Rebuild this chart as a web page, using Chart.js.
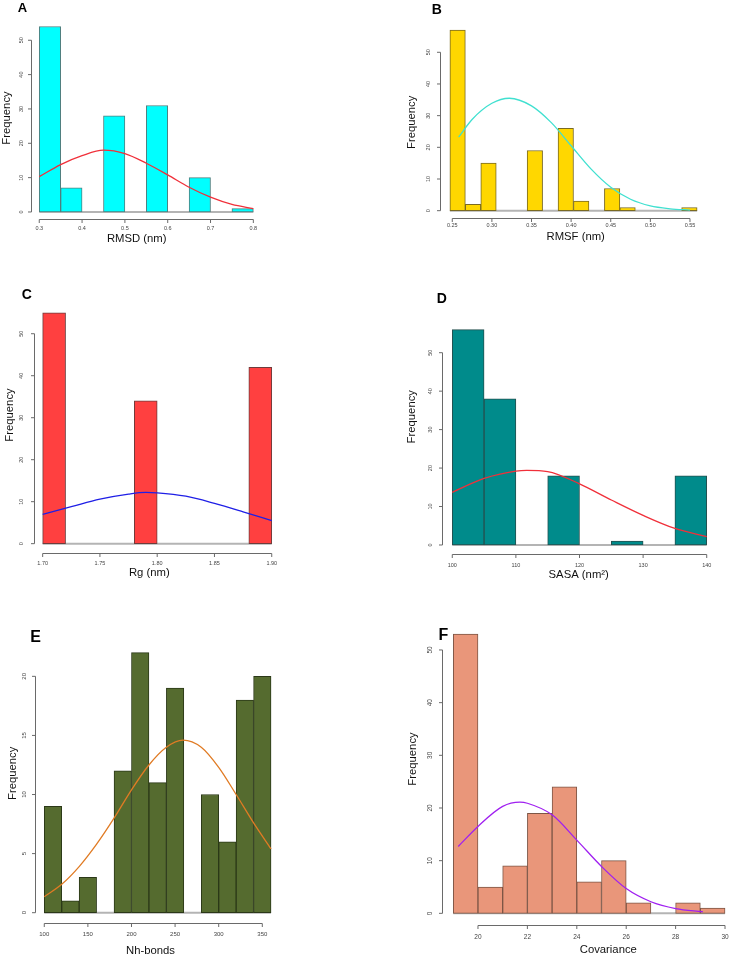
<!DOCTYPE html>
<html>
<head>
<meta charset="utf-8">
<script src="https://cdn.jsdelivr.net/npm/chart.js@4.4.1/dist/chart.umd.min.js"></script>
<style>
	html, body { margin: 0; padding: 0; background: #fff; overflow: hidden; }
	#page { position: relative; width: 731px; height: 956px; }
	#page canvas { position: absolute; }
</style>
</head>
<body>
<div id="page">
	<canvas id="panelA" width="365" height="270" style="left:0;top:0"></canvas>
	<canvas id="panelB" width="372" height="270" style="left:365px;top:0"></canvas>
	<canvas id="panelC" width="365" height="320" style="left:0;top:270px"></canvas>
	<canvas id="panelD" width="372" height="320" style="left:365px;top:270px"></canvas>
	<canvas id="panelE" width="365" height="366" style="left:0;top:590px"></canvas>
	<canvas id="panelF" width="372" height="366" style="left:365px;top:590px"></canvas>
</div>
<script>
// A - RMSD
const rmsdEdges = [ 0.30, 0.35, 0.40, 0.45, 0.50, 0.55, 0.60, 0.65, 0.70, 0.75, 0.80 ];
const rmsdCounts = [ 54, 7, 0, 28, 0, 31, 0, 10, 0, 1 ];
const rmsdCurveX = [ 0.30, 0.35, 0.40, 0.45, 0.50, 0.55, 0.60, 0.65, 0.70, 0.75, 0.80 ];
const rmsdCurveY = [ 10.3, 13.8, 16.4, 18.0, 17.0, 14.2, 10.8, 7.2, 4.3, 2.2, 1.0 ];
const rmsdTicks = [ '0.3', '0.4', '0.5', '0.6', '0.7', '0.8' ];

// B - RMSF
const rmsfEdges = [ 0.247, 0.2665, 0.286, 0.3055, 0.325, 0.3445, 0.364, 0.3835, 0.403, 0.4225, 0.442, 0.4615, 0.481, 0.5005, 0.52, 0.5395, 0.559 ];
const rmsfCounts = [ 57, 2, 15, 0, 0, 19, 0, 26, 3, 0, 7, 1, 0, 0, 0, 1 ];
const rmsfCurveX = [ 0.258, 0.275, 0.30, 0.322, 0.35, 0.375, 0.40, 0.425, 0.45, 0.475, 0.50, 0.525, 0.55 ];
const rmsfCurveY = [ 23.2, 28.8, 33.9, 35.5, 33.1, 27.8, 20.5, 13.2, 7.4, 3.6, 1.5, 0.6, 0.2 ];
const rmsfTicks = [ '0.25', '0.30', '0.35', '0.40', '0.45', '0.50', '0.55' ];

// C - Rg
const rgEdges = [ 1.70, 1.72, 1.74, 1.76, 1.78, 1.80, 1.82, 1.84, 1.86, 1.88, 1.90 ];
const rgCounts = [ 55, 0, 0, 0, 34, 0, 0, 0, 0, 42 ];
const rgCurveX = [ 1.70, 1.725, 1.75, 1.775, 1.79, 1.80, 1.825, 1.85, 1.875, 1.90 ];
const rgCurveY = [ 7.0, 8.8, 10.6, 11.8, 12.2, 12.1, 11.3, 9.6, 7.6, 5.5 ];
const rgTicks = [ '1.70', '1.75', '1.80', '1.85', '1.90' ];

// D - SASA
const sasaEdges = [ 100, 105, 110, 115, 120, 125, 130, 135, 140 ];
const sasaCounts = [ 56, 38, 0, 18, 0, 1, 0, 18 ];
const sasaCurveX = [ 100, 105, 110, 111.7, 115, 120, 125, 130, 135, 140 ];
const sasaCurveY = [ 13.7, 17.3, 19.2, 19.4, 19.1, 15.9, 11.7, 7.7, 4.3, 2.2 ];
const sasaTicks = [ '100', '110', '120', '130', '140' ];

// E - Nh-bonds
const hbEdges = [ 100, 120, 140, 160, 180, 200, 220, 240, 260, 280, 300, 320, 340, 360 ];
const hbCounts = [ 9, 1, 3, 0, 12, 22, 11, 19, 0, 10, 6, 18, 20 ];
const hbCurveX = [ 100, 120, 140, 160, 180, 200, 220, 240, 259, 280, 300, 320, 340, 360 ];
const hbCurveY = [ 1.35, 2.4, 3.9, 5.8, 8.0, 10.4, 12.5, 14.0, 14.6, 14.0, 12.3, 10.0, 7.6, 5.4 ];
const hbTicks = [ '100', '150', '200', '250', '300', '350' ];

// F - Covariance
const covEdges = [ 19, 20, 21, 22, 23, 24, 25, 26, 27, 28, 29, 30 ];
const covCounts = [ 53, 5, 9, 19, 24, 6, 10, 2, 0, 2, 1 ];
const covCurveX = [ 19.2, 20, 21, 21.7, 22, 23, 24, 25, 26, 27, 28, 29.1 ];
const covCurveY = [ 12.7, 16.5, 20.3, 21.1, 20.9, 18.7, 13.9, 8.9, 4.7, 2.2, 0.9, 0.3 ];
const covTicks = [ '20', '22', '24', '26', '28', '30' ];

const freqTicks50 = [ '0', '10', '20', '30', '40', '50' ];
const freqTicks20 = [ '0', '5', '10', '15', '20' ];

const FONT = '"Liberation Sans", Arial, sans-serif';

// draws R style axes, titles and the panel letter
const rAxes = {
	id: 'rAxes',
	afterDraw( chart, args, o ) {
		const { ctx, chartArea: a, scales } = chart;
		const sx = scales.x, sy = scales.y;
		const ox = o.canvasPos[0], oy = o.canvasPos[1];
		ctx.save();
		ctx.strokeStyle = '#6a6a6a';
		ctx.lineWidth = 1;
		ctx.fillStyle = '#444';
		ctx.font = o.tickSize + 'px ' + FONT;

		// x axis
		const xs = o.xTicks.map( t => sx.getPixelForValue( parseFloat( t ) ) );
		const yb = Math.round( a.bottom ) + 0.5;
		ctx.beginPath();
		ctx.moveTo( xs[0], yb );
		ctx.lineTo( xs[ xs.length - 1 ], yb );
		xs.forEach( px => { ctx.moveTo( px, yb ); ctx.lineTo( px, yb + 3.5 ); } );
		ctx.stroke();
		ctx.textAlign = 'center';
		ctx.textBaseline = 'middle';
		o.xTicks.forEach( ( t, i ) => ctx.fillText( t, xs[i], a.bottom + o.xGap ) );

		// y axis
		const ys = o.yTicks.map( t => sy.getPixelForValue( parseFloat( t ) ) );
		const xl = Math.round( a.left ) + 0.5;
		ctx.beginPath();
		ctx.moveTo( xl, ys[0] );
		ctx.lineTo( xl, ys[ ys.length - 1 ] );
		ys.forEach( py => { ctx.moveTo( xl, py ); ctx.lineTo( xl - 3.5, py ); } );
		ctx.stroke();
		o.yTicks.forEach( ( t, i ) => {
			ctx.save();
			ctx.translate( a.left - o.yGap, ys[i] );
			ctx.rotate( -Math.PI / 2 );
			ctx.fillText( t, 0, 0 );
			ctx.restore();
		} );

		// titles
		ctx.fillStyle = '#111';
		ctx.font = '11.3px ' + FONT;
		ctx.fillText( o.xTitle, o.xTitlePos[0] - ox, o.xTitlePos[1] - oy );
		ctx.save();
		ctx.translate( o.yTitlePos[0] - ox, o.yTitlePos[1] - oy );
		ctx.rotate( -Math.PI / 2 );
		ctx.fillText( 'Frequency', 0, 0 );
		ctx.restore();

		ctx.fillStyle = '#000';
		ctx.font = 'bold ' + o.letterSize + 'px ' + FONT;
		ctx.fillText( o.letter, o.letterPos[0] - ox, o.letterPos[1] - oy );
		ctx.restore();
	}
};

function histPanel( id, edges, counts, curveX, curveY, xTicks, yTicks, style, place ) {
	const canvas = document.getElementById( id );
	const cLeft = parseFloat( canvas.style.left ) || 0,
		cTop = parseFloat( canvas.style.top ) || 0;

	const bars = counts.map( ( c, i ) => ( { x: ( edges[i] + edges[i + 1] ) / 2, y: c } ) );
	const curve = curveX.map( ( v, i ) => ( { x: v, y: curveY[i] } ) );
	const first = edges[0], last = edges[ edges.length - 1 ];
	const xPad = ( last - first ) * 0.04;
	const yMax = Math.max( ...counts );

	const r = place.region;
	new Chart( canvas, {
		type: 'bar',
		data: {
			datasets: [
				{
					type: 'line',
					data: curve,
					borderColor: style.curve,
					borderWidth: 1.3,
					pointRadius: 0,
					cubicInterpolationMode: 'monotone',
					order: 0
				},
				{
					data: bars,
					backgroundColor: style.fill,
					borderColor: style.border,
					borderWidth: 1,
					borderSkipped: false,
					barPercentage: 1,
					categoryPercentage: 1,
					order: 1
				},
				{
					// grey base line of the empty bins
					type: 'line',
					data: [ { x: first, y: 0 }, { x: last, y: 0 } ],
					borderColor: '#b4b4b4',
					borderWidth: 2,
					pointRadius: 0,
					order: 2
				}
			]
		},
		options: {
			responsive: false,
			animation: false,
			layout: {
				padding: {
					left: r[0] - cLeft,
					right: canvas.width - ( r[1] - cLeft ),
					top: r[2] - cTop,
					bottom: canvas.height - ( r[3] - cTop )
				}
			},
			scales: {
				x: { type: 'linear', display: false, offset: false, min: first - xPad, max: last + xPad },
				y: { type: 'linear', display: false, min: -yMax * 0.04, max: yMax * 1.04 }
			},
			plugins: {
				legend: { display: false },
				tooltip: { enabled: false },
				rAxes: Object.assign( { canvasPos: [ cLeft, cTop ], xTicks: xTicks, yTicks: yTicks }, place )
			}
		},
		plugins: [ rAxes ]
	} );
}

histPanel( 'panelA', rmsdEdges, rmsdCounts, rmsdCurveX, rmsdCurveY, rmsdTicks, freqTicks50,
	{ fill: '#00FFFF', border: '#4f7f7f', curve: '#F0303A' },
	{ region: [ 30.7, 261.9, 19.1, 219.4 ], tickSize: 5.5, xGap: 9.3, yGap: 9.7,
		xTitle: 'RMSD (nm)', xTitlePos: [ 136.7, 239 ], yTitlePos: [ 6.7, 118 ],
		letter: 'A', letterSize: 13, letterPos: [ 22.5, 8.5 ] } );

histPanel( 'panelB', rmsfEdges, rmsfCounts, rmsfCurveX, rmsfCurveY, rmsfTicks, freqTicks50,
	{ fill: '#FFD700', border: '#7a6a22', curve: '#40E0D0' },
	{ region: [ 440.0, 707.0, 22.9, 217.9 ], tickSize: 5.5, xGap: 8, yGap: 11.7,
		xTitle: 'RMSF (nm)', xTitlePos: [ 575.7, 236.7 ], yTitlePos: [ 412, 122.3 ],
		letter: 'B', letterSize: 14, letterPos: [ 436.7, 10.5 ] } );

histPanel( 'panelC', rgEdges, rgCounts, rgCurveX, rgCurveY, rgTicks, freqTicks50,
	{ fill: '#FF4040', border: '#6e3c3c', curve: '#1f1fe6' },
	{ region: [ 33.5, 280.9, 303.5, 552.9 ], tickSize: 5.5, xGap: 11, yGap: 11.8,
		xTitle: 'Rg (nm)', xTitlePos: [ 149.3, 573.3 ], yTitlePos: [ 9.5, 415 ],
		letter: 'C', letterSize: 14, letterPos: [ 26.7, 295.5 ] } );

histPanel( 'panelD', sasaEdges, sasaCounts, sasaCurveX, sasaCurveY, sasaTicks, freqTicks50,
	{ fill: '#008B8B', border: '#24504f', curve: '#F0303A' },
	{ region: [ 442.1, 716.9, 321.0, 553.6 ], tickSize: 5.5, xGap: 11.4, yGap: 12,
		xTitle: 'SASA (nm\u00B2)', xTitlePos: [ 578.7, 575 ], yTitlePos: [ 412, 416.7 ],
		letter: 'D', letterSize: 14, letterPos: [ 441.7, 298.8 ] } );

histPanel( 'panelE', hbEdges, hbCounts, hbCurveX, hbCurveY, hbTicks, freqTicks20,
	{ fill: '#556B2F', border: '#2b3818', curve: '#E07B24' },
	{ region: [ 35.2, 280.1, 642.3, 923.1 ], tickSize: 6, xGap: 11.2, yGap: 11.2,
		xTitle: 'Nh-bonds', xTitlePos: [ 150.5, 950.7 ], yTitlePos: [ 13.3, 773.3 ],
		letter: 'E', letterSize: 16, letterPos: [ 35.5, 638 ] } );

histPanel( 'panelF', covEdges, covCounts, covCurveX, covCurveY, covTicks, freqTicks50,
	{ fill: '#E9967A', border: '#7d5646', curve: '#A020F0' },
	{ region: [ 442.4, 735.9, 623.0, 924.5 ], tickSize: 6.5, xGap: 12.8, yGap: 12.4,
		xTitle: 'Covariance', xTitlePos: [ 608.3, 950 ], yTitlePos: [ 413.3, 759 ],
		letter: 'F', letterSize: 16, letterPos: [ 443.3, 635.5 ] } );
</script>
</body>
</html>
